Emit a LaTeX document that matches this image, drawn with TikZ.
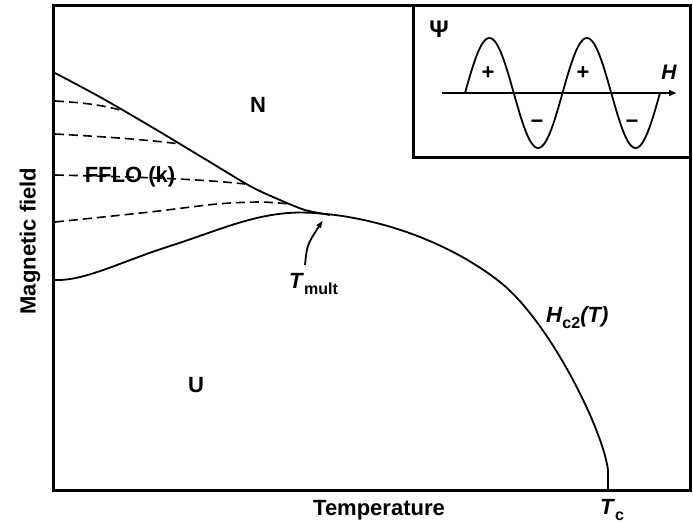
\documentclass[tikz,border=0pt]{standalone}
\usepackage{fontspec}
\setmainfont{Liberation Sans}
\usetikzlibrary{arrows.meta}
\newcommand\mysub[1]{\raisebox{-0.3em}{\fontsize{16}{16}\selectfont #1}}
\begin{document}
\begin{tikzpicture}[x=1pt,y=-1pt,
  lab/.style={font=\fontsize{22}{24}\selectfont\bfseries, inner sep=0pt},
  frameline/.style={line width=3pt},
  curve/.style={line width=1.8pt, line join=round},
  dashline/.style={line width=1.6pt, dash pattern=on 9pt off 5pt},
  ptr/.style={line width=1.8pt, -{Latex[length=8pt,width=6pt]}}]
\useasboundingbox (0,0) rectangle (693,523);
% main frame
\draw[frameline] (53,5) rectangle (690,490);
% inset
\draw[frameline] (413,5) -- (413,157) -- (690,157);
\draw[line width=2pt, -{Latex[length=8pt,width=7pt]}] (442,93) -- (677,93);
\draw[curve] plot[domain=0:720, samples=120] ({465+\x/720*195}, {93-55*sin(\x)});
\node[lab, font=\fontsize{24}{26}\selectfont\bfseries] (psi) at (439,29) {Ψ};
\node[lab, font=\fontsize{21}{22}\selectfont\bfseries\itshape] (hax) at (669,72) {H};
\node[lab] (p1) at (488,73) {+};
\node[lab] (p2) at (583,73) {+};
\node[lab] (m1) at (537,124) {−};
\node[lab] (m2) at (632,124) {−};
% upper line N / FFLO
\draw[curve] plot[smooth] coordinates {(55,73) (100,97) (150,126) (200,156) (250,186) (280,200) (305,210) (330,215)};
% FFLO / U line and Hc2
\draw[curve] (55,280) .. controls (85,281) and (120,262) .. (170,246)
  .. controls (220,230) and (255,213) .. (300,212.5)
  .. controls (360,213) and (440,235) .. (500,282)
  .. controls (550,322) and (603,430) .. (608,470) -- (608,490);
% dashed lines
\draw[dashline] (55,101) .. controls (90,103) and (105,106) .. (120,110);
\draw[dashline] (55,134) .. controls (110,137) and (150,140) .. (180,144);
\draw[dashline] (55,175) .. controls (140,177) and (200,179) .. (245,184);
\draw[dashline] plot[smooth] coordinates {(55,222) (150,212) (217,204) (260,202) (290,204)};
% labels
\node[lab] (N) at (258,105) {N};
\node[lab] (fflo) at (130,177) {FFLO (k)};
\node[lab] (U) at (196,385) {U};
\node[lab, anchor=base west] (tm) at (289,288) {\textit{T}\mysub{mult}};
\coordinate (cusp) at (323,220);
\draw[ptr] (305,265) .. controls (307,245) .. (cusp);
\node[lab, anchor=base west] (hc) at (546,322) {\textit{H}\mysub{c2}\textit{(T)}};
\node[lab, anchor=base west] (tc) at (600,514) {\textit{T}\mysub{c}};
\node[lab, anchor=base] (temp) at (379,515) {Temperature};
\node[lab, rotate=90] (mag) at (30,241) {Magnetic field};
\end{tikzpicture}
\end{document}
